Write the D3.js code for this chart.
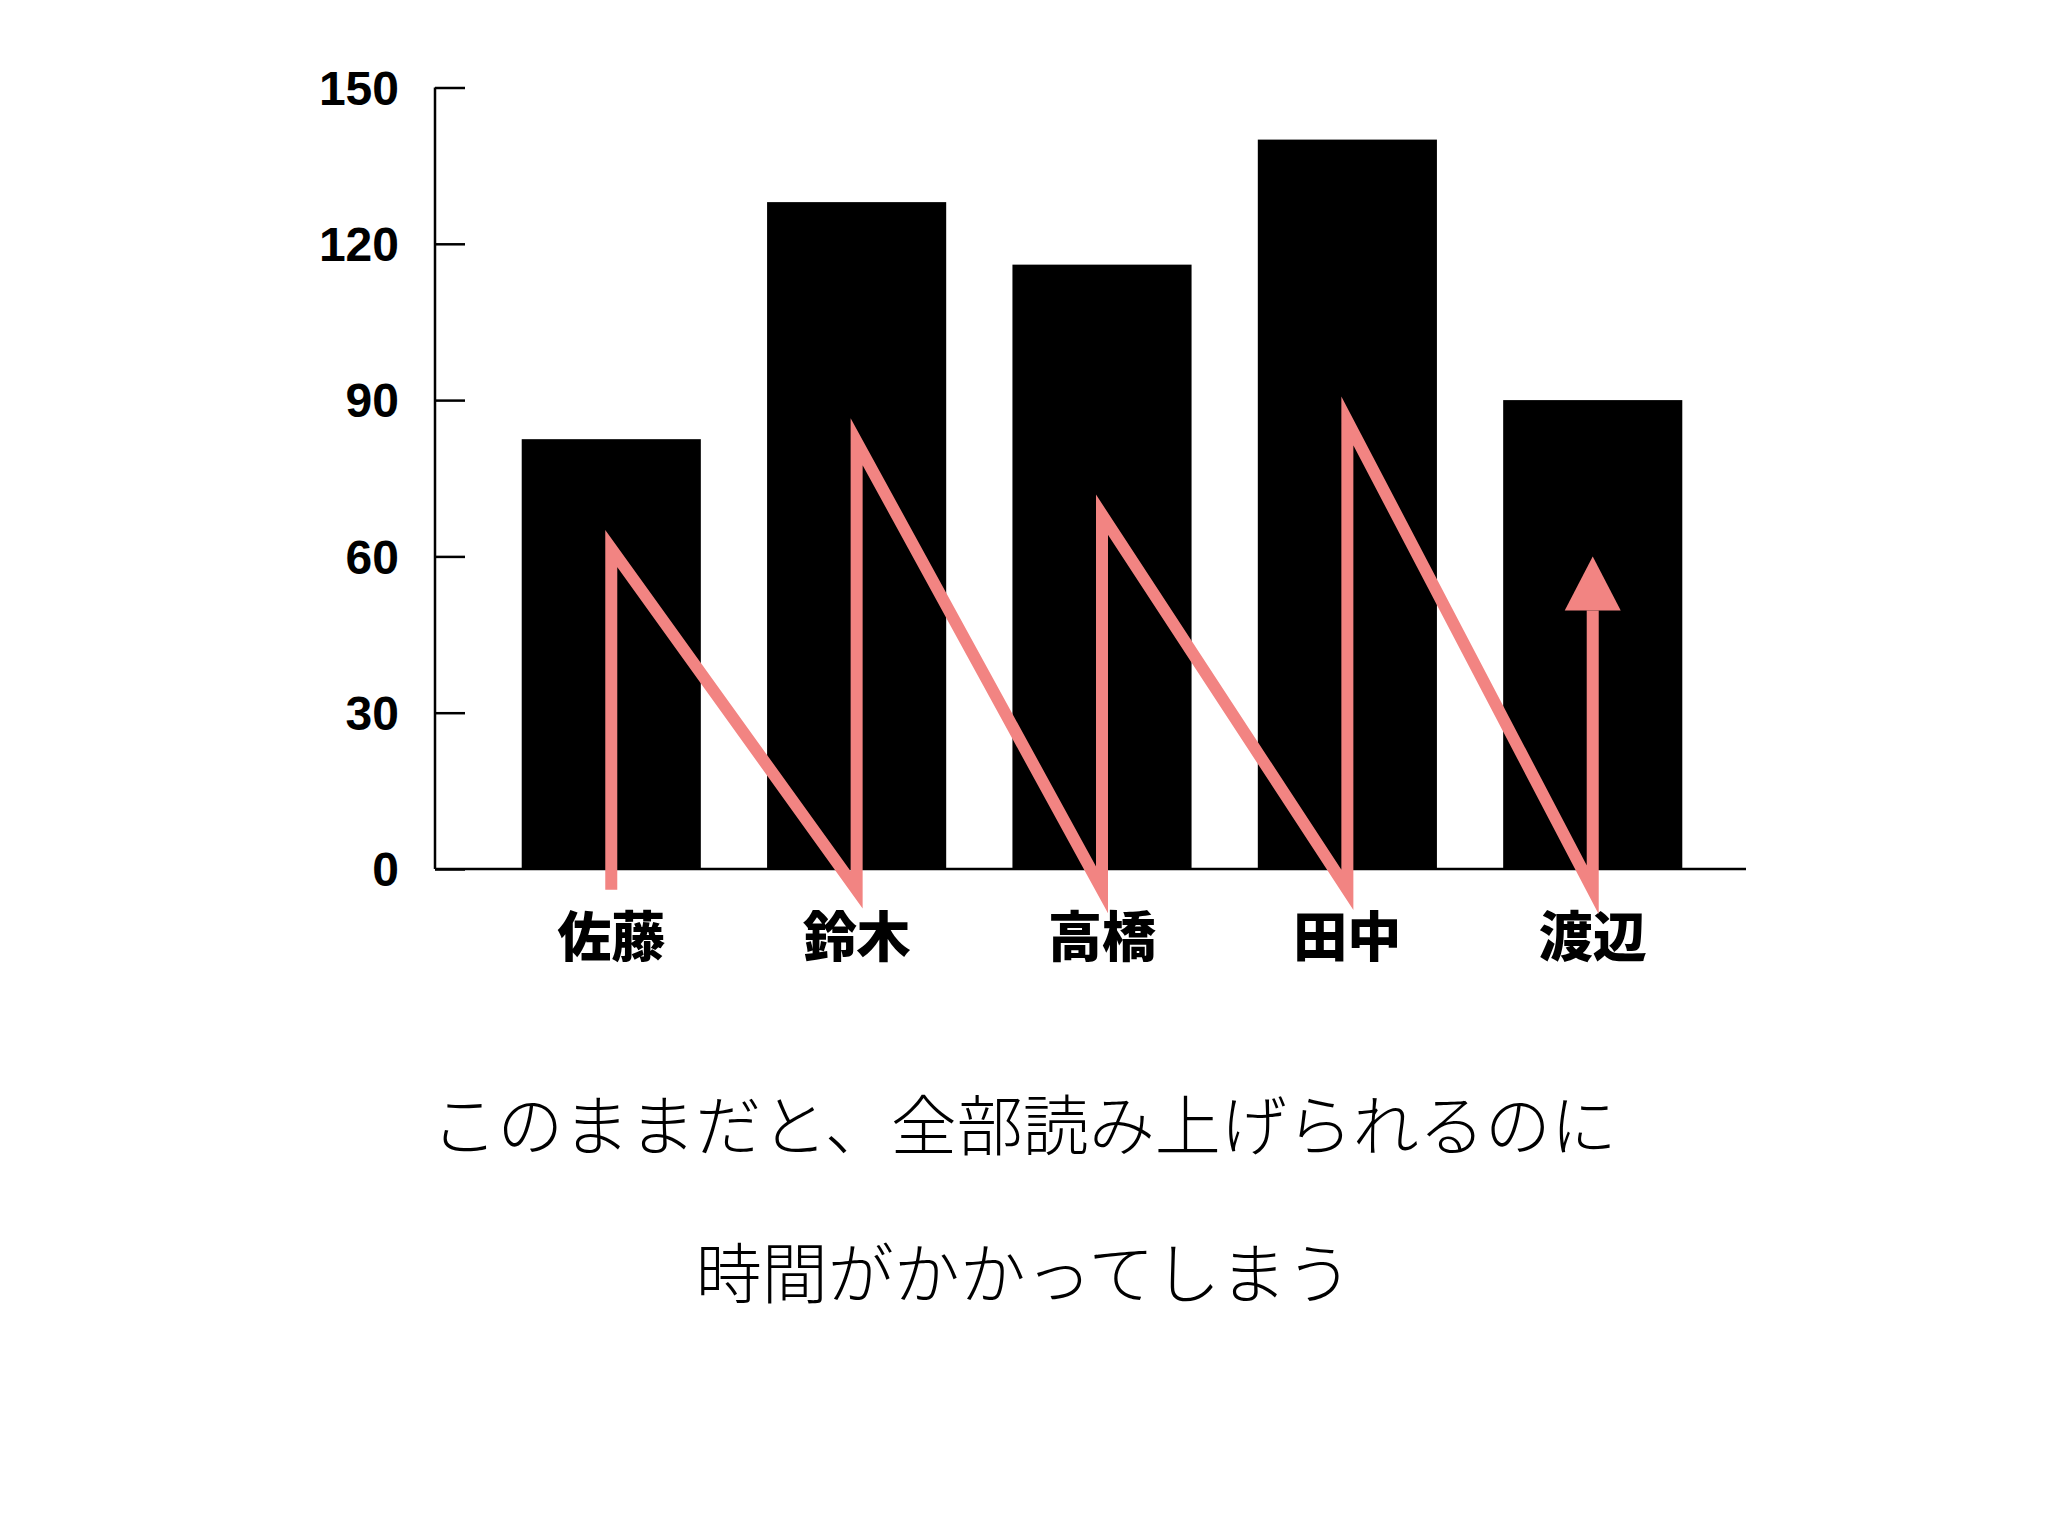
<!DOCTYPE html>
<html><head><meta charset="utf-8">
<script src="https://cdn.jsdelivr.net/npm/d3@7/dist/d3.min.js"></script>
<style>body{margin:0;background:#fff}</style></head>
<body><svg id="c" width="2048" height="1536"></svg>
<script>
const categories = ["佐藤","鈴木","高橋","田中","渡辺"];
const values = [82.5, 128, 116, 140, 90];
const peaks = [61.5, 82, 68, 86, 60];
const lowValue = -4;
const ticks = [0,30,60,90,120,150];
const caption = ["このままだと、全部読み上げられるのに","時間がかかってしまう"];

const svg = d3.select("#c");
const x0 = 435, x1 = 1746, yB = 869, yT = 87.5;
const x = d3.scaleBand().domain(categories).range([x0+45, x1-22]).paddingInner(0.27).paddingOuter(0.17);
const y = d3.scaleLinear().domain([0,150]).range([yB,yT]);

svg.selectAll("rect").data(values).join("rect")
  .attr("x",(d,i)=>x(categories[i])).attr("width",x.bandwidth())
  .attr("y",d=>y(d)).attr("height",d=>yB-y(d)).attr("fill","#000");

const ax = svg.append("g").attr("transform",`translate(${x0},0)`)
  .call(d3.axisRight(y).tickValues(ticks).tickSize(30).tickFormat(""));
ax.select(".domain").remove();
ax.selectAll("line").attr("stroke","#000").attr("stroke-width",2.5);
svg.append("line").attr("x1",x0).attr("x2",x0).attr("y1",yT).attr("y2",yB).attr("stroke","#000").attr("stroke-width",2.5);
svg.append("line").attr("x1",x0).attr("x2",x1).attr("y1",yB).attr("y2",yB).attr("stroke","#000").attr("stroke-width",2.5);
svg.selectAll("text.tk").data(ticks).join("text").attr("class","tk")
  .attr("x",x0-36).attr("y",d=>y(d)).attr("dy","0.36em").attr("text-anchor","end")
  .attr("font-family","Liberation Sans, Arial, sans-serif").attr("font-weight","bold").attr("font-size",48)
  .text(d=>d);

svg.selectAll("text.cat").data(categories).join("text").attr("class","cat")
  .attr("x",d=>x(d)+x.bandwidth()/2).attr("y",938).attr("dy","0.36em").attr("text-anchor","middle")
  .attr("font-family","Noto Sans CJK JP").attr("font-weight","900").attr("font-size",54)
  .text(d=>d);

// zigzag
const pts = [];
categories.forEach((c,i)=>{
  const cx = x(c)+x.bandwidth()/2;
  pts.push([cx, y(lowValue)]);
  pts.push([cx, y(peaks[i])]);
});
const last = pts[pts.length-1];
const headH = 54, headW = 28;
pts[pts.length-1] = [last[0], last[1]+headH];
svg.append("path").attr("d",d3.line()(pts)).attr("fill","none")
  .attr("stroke","#f28482").attr("stroke-width",12).attr("stroke-linejoin","miter").attr("stroke-miterlimit",20);
svg.append("path").attr("d",`M${last[0]},${last[1]} L${last[0]-headW},${last[1]+headH} L${last[0]+headW},${last[1]+headH}Z`).attr("fill","#f28482");

svg.selectAll("text.cap").data(caption).join("text").attr("class","cap")
  .attr("x",1024).attr("y",(d,i)=>1126+i*148).attr("dy","0.36em").attr("text-anchor","middle")
  .attr("font-family","Noto Sans CJK JP").attr("font-weight","300").attr("font-size",66)
  .text(d=>d);
</script></body></html>
